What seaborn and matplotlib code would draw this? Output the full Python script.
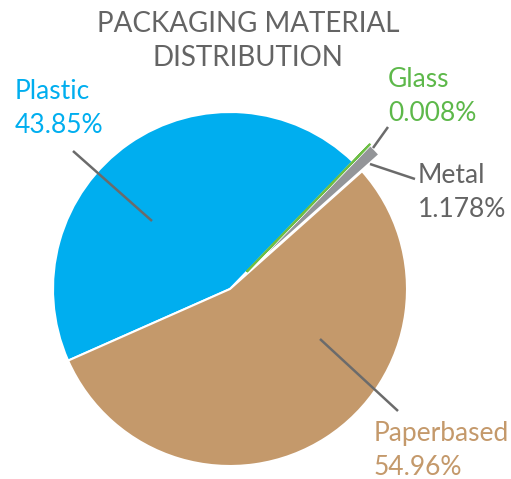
import matplotlib
matplotlib.use("Agg")
import matplotlib.pyplot as plt
import seaborn as sns

# data
materials = ["Plastic", "Paperbased", "Metal", "Glass"]
shares = [43.85, 54.96, 1.178, 0.008]
share_labels = ["43.85%", "54.96%", "1.178%", "0.008%"]
colors = ["#00AEEF", "#C4996B", "#939598", "#6DBE45"]
text_colors = ["#00AEEF", "#C4996B", "#646464", "#5DB84A"]

# layout in pixel units (x, y from top)
explode = [0, 0, 24, 24]
label_pos = {"Plastic": (15, 99), "Paperbased": (374, 441),
             "Metal": (418, 183), "Glass": (388, 87)}
leaders = {"Plastic": ((152, 221), (73, 151)),
           "Paperbased": ((320, 339), (398, 411)),
           "Metal": ((370, 164), (415, 179)),
           "Glass": ((373, 148), (388, 127))}

W, H = 511, 479
sns.set_theme(style="white")
plt.rcParams["font.family"] = ["Lato", "DejaVu Sans"]

fig = plt.figure(figsize=(W / 100, H / 100), dpi=100)
ax = fig.add_axes([0, 0, 1, 1])
ax.axis("off")

wedges, _ = ax.pie(shares, colors=colors, explode=explode, startangle=46,
                   counterclock=True, center=(230, -289), radius=177,
                   wedgeprops=dict(edgecolor="white", linewidth=1.5))
wedges[3].set_edgecolor(colors[3])
wedges[3].set_linewidth(1.5)
# pie is y-up, so the page runs from 0 down to -H
ax.set_ylim(-H, 0)
ax.set_xlim(0, W)
ax.set_aspect("equal")

def P(x, y):
    return (x, -y)

ax.text(*P(248, 11), "PACKAGING MATERIAL\nDISTRIBUTION", ha="center", va="top",
        fontsize=20, color="#646464", linespacing=1.38)

for name, lab, tc in zip(materials, share_labels, text_colors):
    x, y = label_pos[name]
    ax.text(*P(x, y), name, ha="left", va="baseline", fontsize=19, color=tc)
    ax.text(*P(x, y + 34), lab, ha="left", va="baseline", fontsize=19, color=tc)
    a, b = leaders[name]
    ax.plot([a[0], b[0]], [-a[1], -b[1]], color="#6B6B6B", lw=1.8,
            solid_capstyle="butt")

fig.savefig("out.png", dpi=100, facecolor="white")
